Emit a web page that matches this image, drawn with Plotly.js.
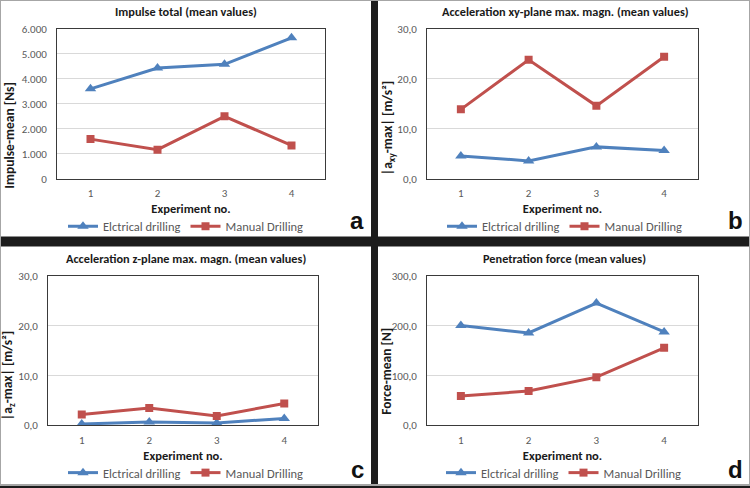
<!DOCTYPE html>
<html>
<head>
<meta charset="utf-8">
<script src="https://cdn.plot.ly/plotly-3.0.1.min.js"></script>
<style>html,body{margin:0;padding:0;background:#1c1c1c;}#chart{width:750px;height:488px;}</style>
</head>
<body>
<div id="chart"></div>
<script>
// ---- data ----
const experiments = [1, 2, 3, 4];
const seriesNames = ["Elctrical drilling", "Manual Drilling"];
const impulseElectrical = [3600, 4430, 4580, 5640];
const impulseManual = [1590, 1170, 2500, 1340];
const accXYElectrical = [4.6, 3.6, 6.4, 5.7];
const accXYManual = [13.9, 23.8, 14.6, 24.4];
const accZElectrical = [0.3, 0.7, 0.5, 1.4];
const accZManual = [2.2, 3.5, 1.9, 4.4];
const forceElectrical = [201, 186, 246, 188];
const forceManual = [59, 69, 97, 156];
const panelTitles = ["Impulse total (mean values)", "Acceleration xy-plane max. magn. (mean values)",
  "Acceleration z-plane max. magn. (mean values)", "Penetration force (mean values)"];
const yTitles = ["Impulse-mean [Ns]", "|a<sub>xy</sub>-max| [m/s²]", "|a<sub>z</sub>-max| [m/s²]", "Force-mean [N]"];
const xTitle = "Experiment no.";
const panelLetters = ["a", "b", "c", "d"];

// ---- styling ----
const W = 750, H = 488;
const BLUE = "#4F81BD", RED = "#C0504D";
const FONT = "Carlito, 'Liberation Sans Narrow', Roboto, sans-serif";
const px = v => v / W, py = v => 1 - v / H;

const panels = [
  {elec: impulseElectrical, man: impulseManual, x0: 57, x1: 325, y0: 29, y1: 180, range: [0, 6000], dtick: 1000, fmt: ",d", cx: 186, ty: 12, ytx: 9.5, yty: 137, ly: 228, lx: 357, lyy: 222},
  {elec: accXYElectrical, man: accXYManual, x0: 427, x1: 698, y0: 29, y1: 180, range: [0, 30], dtick: 10, fmt: ".1f", cx: 565, ty: 12, ytx: 388, yty: 129, ly: 228, lx: 735, lyy: 222},
  {elec: accZElectrical, man: accZManual, x0: 48, x1: 318, y0: 278, y1: 428, range: [0, 30], dtick: 10, fmt: ".1f", cx: 186, ty: 260, ytx: 8.5, yty: 378, ly: 476, lx: 357, lyy: 472},
  {elec: forceElectrical, man: forceManual, x0: 427, x1: 698, y0: 278, y1: 428, range: [0, 300], dtick: 100, fmt: ".1f", cx: 564, ty: 260, ytx: 387, yty: 374, ly: 476, lx: 735, lyy: 472}
];

const data = [];
const layout = {
  width: W, height: H,
  margin: {l: 0, r: 0, t: 0, b: 0},
  paper_bgcolor: "#1c1c1c",
  plot_bgcolor: "#ffffff",
  separators: ",.",
  font: {family: FONT, color: "#595959", size: 11},
  showlegend: true,
  annotations: [],
  shapes: [
    {type: "rect", xref: "paper", yref: "paper", x0: px(0), x1: px(371), y0: py(238), y1: py(0), fillcolor: "#ffffff", line: {width: 0}, layer: "below"},
    {type: "rect", xref: "paper", yref: "paper", x0: px(378), x1: px(750), y0: py(238), y1: py(0), fillcolor: "#ffffff", line: {width: 0}, layer: "below"},
    {type: "rect", xref: "paper", yref: "paper", x0: px(0), x1: px(371), y0: py(488), y1: py(248), fillcolor: "#ffffff", line: {width: 0}, layer: "below"},
    {type: "rect", xref: "paper", yref: "paper", x0: px(378), x1: px(750), y0: py(488), y1: py(248), fillcolor: "#ffffff", line: {width: 0}, layer: "below"},
    {type: "rect", xref: "paper", yref: "paper", x0: 0, x1: 1, y0: 0, y1: 1, line: {color: "#a6a6a6", width: 2}, layer: "above"}
  ]
};

panels.forEach((p, i) => {
  const n = i === 0 ? "" : String(i + 1);
  const xa = "x" + n, ya = "y" + n;
  const leg = i === 0 ? "legend" : "legend" + (i + 1);
  data.push({
    x: experiments, y: p.elec, name: seriesNames[0], type: "scatter", mode: "lines+markers",
    xaxis: xa, yaxis: ya, legend: leg,
    line: {color: BLUE, width: 3}, marker: {symbol: "triangle-up", size: 10, color: BLUE}
  });
  data.push({
    x: experiments, y: p.man, name: seriesNames[1], type: "scatter", mode: "lines+markers",
    xaxis: xa, yaxis: ya, legend: leg,
    line: {color: RED, width: 3}, marker: {symbol: "square", size: 8, color: RED}
  });
  layout["xaxis" + n] = {
    domain: [px(p.x0), px(p.x1)], anchor: ya, range: [0.5, 4.5], dtick: 1, tick0: 1,
    showgrid: false, zeroline: false, showline: true, mirror: true, linecolor: "#3a3a3a", linewidth: 1,
    ticks: "", ticklabelstandoff: 4, tickfont: {size: 11, color: "#595959"},
    title: {text: xTitle, font: {size: 12.5, color: "#1a1a1a", weight: "bold"}, standoff: 5}
  };
  layout["yaxis" + n] = {
    domain: [py(p.y1), py(p.y0)], anchor: xa, range: p.range, dtick: p.dtick, tickformat: p.fmt,
    showgrid: true, gridcolor: "#d9d9d9", zeroline: false, showline: true, mirror: true, linecolor: "#3a3a3a", linewidth: 1,
    ticks: "", ticklabelstandoff: 7, tickfont: {size: 11, color: "#595959"}
  };
  layout[leg] = {
    orientation: "h", x: px(p.cx), xanchor: "center", y: py(p.ly), yanchor: "middle",
    xref: "paper", yref: "paper", bgcolor: "rgba(0,0,0,0)", font: {size: 12.5, color: "#595959"},
    itemwidth: 30, tracegroupgap: 0
  };
  layout.annotations.push({
    text: panelTitles[i], xref: "paper", yref: "paper", x: px(p.cx), y: py(p.ty),
    xanchor: "center", yanchor: "middle", showarrow: false,
    font: {size: 12.3, color: "#1a1a1a", weight: "bold"}
  });
  layout.annotations.push({
    text: yTitles[i], xref: "paper", yref: "paper", x: px(p.ytx), y: py(p.yty),
    xanchor: "center", yanchor: "middle", showarrow: false, textangle: -90,
    font: {size: 13.5, color: "#1a1a1a", weight: "bold"}
  });
  layout.annotations.push({
    text: panelLetters[i], xref: "paper", yref: "paper", x: px(p.lx), y: py(p.lyy),
    xanchor: "center", yanchor: "middle", showarrow: false,
    font: {family: "'Liberation Sans', Arial, sans-serif", size: 24, color: "#111111", weight: "bold"}
  });
});

Plotly.newPlot("chart", data, layout, {staticPlot: true, displayModeBar: false});
</script>
</body>
</html>
